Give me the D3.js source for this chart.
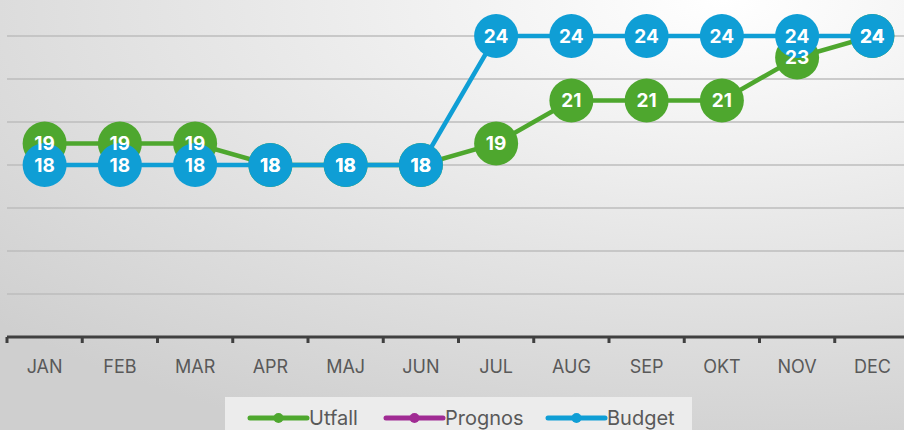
<!DOCTYPE html>
<meta charset="utf-8">
<style>
body { margin: 0; overflow: hidden; }
text { font-family: 'Inter', 'Noto Sans', sans-serif; }
.lbl { fill: white; font-weight: 700; font-size: 19px; }
.tick text { fill: #595959; font-size: 18px; }
</style>
<body>
<script src="https://cdn.jsdelivr.net/npm/d3@7"></script>
<script>
// chart data
var months = ["JAN", "FEB", "MAR", "APR", "MAJ", "JUN", "JUL", "AUG", "SEP", "OKT", "NOV", "DEC"];
var utfall = [19, 19, 19, 18, 18, 18, 19, 21, 21, 21, 23, 24];
var prognos = [];
var budget = [18, 18, 18, 18, 18, 18, 24, 24, 24, 24, 24, 24];
var gridValues = [12, 14, 16, 18, 20, 22, 24];

var W = 904, H = 430;
var svg = d3.select("body").append("svg").attr("width", W).attr("height", H);

var defs = svg.append("defs");
var grad = defs.append("radialGradient").attr("id", "bg")
  .attr("cx", "0.8").attr("cy", "0").attr("r", "1.1");
grad.append("stop").attr("offset", "0").attr("stop-color", "#ffffff");
grad.append("stop").attr("offset", "1").attr("stop-color", "#cfcfcf");
svg.append("rect").attr("width", W).attr("height", H).attr("fill", "url(#bg)");

var x = d3.scaleBand().domain(months).range([7, 910]);
var y = d3.scaleLinear().domain([10, 24]).range([337, 36]);

// gridlines
svg.append("g").selectAll("line").data(gridValues).enter().append("line")
  .attr("x1", 7).attr("x2", W)
  .attr("y1", d => y(d)).attr("y2", d => y(d))
  .attr("stroke", "#bdbdbd").attr("stroke-width", 1.5);

// x axis
var xa = svg.append("g").attr("transform", "translate(0," + y(10) + ")")
  .call(d3.axisBottom(x).tickSize(0).tickPadding(30));
xa.select(".domain").remove();
xa.append("line").attr("x1", 7).attr("x2", W).attr("stroke", "#404040").attr("stroke-width", 3);
xa.selectAll(".edge").data(d3.range(13)).enter().append("line")
  .attr("x1", i => 7 + i * x.step()).attr("x2", i => 7 + i * x.step())
  .attr("y1", 0).attr("y2", 6).attr("stroke", "#404040").attr("stroke-width", 3);
xa.selectAll(".tick text").attr("dy", "0.35em");

var series = [
  { name: "Utfall", values: utfall, color: "#4ea72e" },
  { name: "Prognos", values: prognos, color: "#a02b93" },
  { name: "Budget", values: budget, color: "#0f9ed5" }
];

var line = d3.line().x((d, i) => x(months[i]) + x.bandwidth() / 2).y(d => y(d));

series.forEach(s => {
  if (!s.values.length) return;
  svg.append("path").datum(s.values).attr("d", line)
    .attr("fill", "none").attr("stroke", s.color).attr("stroke-width", 4.5);
  svg.append("g").selectAll("circle").data(s.values).enter().append("circle")
    .attr("cx", (d, i) => x(months[i]) + x.bandwidth() / 2)
    .attr("cy", d => y(d)).attr("r", 22).attr("fill", s.color);
});

series.forEach(s => {
  svg.append("g").selectAll("text").data(s.values).enter().append("text")
    .attr("class", "lbl")
    .attr("x", (d, i) => x(months[i]) + x.bandwidth() / 2)
    .attr("y", d => y(d)).attr("dy", "0.36em").attr("text-anchor", "middle")
    .text(d => d);
});

// legend
var lg = svg.append("g");
lg.append("rect").attr("x", 225).attr("y", 397).attr("width", 467).attr("height", 40)
  .attr("fill", "#ececec");
var lx = [250, 386, 548];
series.forEach((s, i) => {
  var g = lg.append("g").attr("transform", "translate(" + lx[i] + ",418)");
  g.append("line").attr("x1", 0).attr("x2", 57).attr("stroke", s.color)
    .attr("stroke-width", 5).attr("stroke-linecap", "round");
  g.append("circle").attr("cx", 28.5).attr("r", 5).attr("fill", s.color);
  g.append("text").attr("x", 59).attr("y", 0).attr("dy", "0.35em")
    .attr("fill", "#595959").style("font-size", "20px").text(s.name);
});
</script>
</body>
